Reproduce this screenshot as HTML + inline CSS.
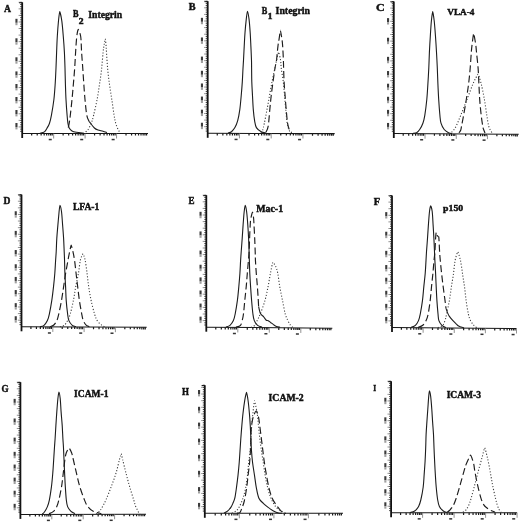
<!DOCTYPE html>
<html><head><meta charset="utf-8"><style>
html,body{margin:0;padding:0;background:#fff;}
svg{display:block;filter:grayscale(1);}
text{font-family:"Liberation Serif",serif;font-weight:bold;fill:#111;stroke:#111;stroke-width:0.45px;}
</style></head><body>
<svg width="520" height="523" viewBox="0 0 520 523">
<rect width="520" height="523" fill="#fff"/>
<g><path d="M22.2 2.3V138" stroke="#111" stroke-width="1.8" fill="none"/><path d="M19 2.7H22.2" stroke="#111" stroke-width="1.1" fill="none"/><path d="M20.2 131.31H22.2M20.2 129.13H22.2M20.2 126.94H22.2M20.2 124.75H22.2M20.2 122.57H22.2M20.2 120.38H22.2M20.2 118.19H22.2M20.2 116.01H22.2M20.2 113.82H22.2M20.2 111.63H22.2M20.2 109.45H22.2M20.2 107.26H22.2M20.2 105.07H22.2M20.2 102.89H22.2M20.2 100.7H22.2M20.2 98.51H22.2M20.2 96.33H22.2M20.2 94.14H22.2M20.2 91.95H22.2M20.2 89.77H22.2M20.2 87.58H22.2M20.2 85.39H22.2M20.2 83.21H22.2M20.2 81.02H22.2M20.2 78.83H22.2M20.2 76.65H22.2M20.2 74.46H22.2M20.2 72.27H22.2M20.2 70.09H22.2M20.2 67.9H22.2M20.2 65.71H22.2M20.2 63.53H22.2M20.2 61.34H22.2M20.2 59.15H22.2M20.2 56.97H22.2M20.2 54.78H22.2M20.2 52.59H22.2M20.2 50.41H22.2M20.2 48.22H22.2M20.2 46.03H22.2M20.2 43.85H22.2M20.2 41.66H22.2M20.2 39.47H22.2M20.2 37.29H22.2M20.2 35.1H22.2M20.2 32.91H22.2M20.2 30.73H22.2M20.2 28.54H22.2M20.2 26.35H22.2M20.2 24.17H22.2M20.2 21.98H22.2M20.2 19.79H22.2M20.2 17.61H22.2M20.2 15.42H22.2M20.2 13.23H22.2M20.2 11.05H22.2M20.2 8.86H22.2M20.2 6.67H22.2M20.2 4.49H22.2M20.2 2.3H22.2" stroke="#222" stroke-width="0.85" fill="none"/><path d="M18.6 126.94H20.2M18.6 120.38H20.2M18.6 113.82H20.2M18.6 107.26H20.2M18.6 100.7H20.2M18.6 94.14H20.2M18.6 87.58H20.2M18.6 81.02H20.2M18.6 74.46H20.2M18.6 67.9H20.2M18.6 61.34H20.2M18.6 54.78H20.2M18.6 48.22H20.2M18.6 41.66H20.2M18.6 35.1H20.2M18.6 28.54H20.2M18.6 21.98H20.2M18.6 15.42H20.2M18.6 8.86H20.2M18.6 2.3H20.2" stroke="#666" stroke-width="0.7" fill="none"/><rect x="15.4" y="18.8" width="2.1" height="4.0" fill="#3c3c3c"/><rect x="15.4" y="22.8" width="2.1" height="2.4" fill="#a0a0a0"/><rect x="15.4" y="38.3" width="2.1" height="4.0" fill="#3c3c3c"/><rect x="15.4" y="42.3" width="2.1" height="2.4" fill="#a0a0a0"/><rect x="15.4" y="57.3" width="2.1" height="4.0" fill="#3c3c3c"/><rect x="15.4" y="61.3" width="2.1" height="2.4" fill="#a0a0a0"/><rect x="15.4" y="71.4" width="2.1" height="4.0" fill="#3c3c3c"/><rect x="15.4" y="75.4" width="2.1" height="2.4" fill="#a0a0a0"/><rect x="15.4" y="84" width="2.1" height="4.0" fill="#3c3c3c"/><rect x="15.4" y="88" width="2.1" height="2.4" fill="#a0a0a0"/><rect x="15.4" y="97" width="2.1" height="4.0" fill="#3c3c3c"/><rect x="15.4" y="101" width="2.1" height="2.4" fill="#a0a0a0"/><rect x="15.4" y="110" width="2.1" height="4.0" fill="#3c3c3c"/><rect x="15.4" y="114" width="2.1" height="2.4" fill="#a0a0a0"/><rect x="15.4" y="123" width="2.1" height="4.0" fill="#3c3c3c"/><rect x="15.4" y="127" width="2.1" height="2.4" fill="#a0a0a0"/><path d="M22.2 133.5L148 133.5" stroke="#161616" stroke-width="1.05" fill="none"/><path d="M31.67 133.5v2.1M37.21 133.5v2.1M41.13 133.5v2.1M44.18 133.5v2.1M46.67 133.5v2.1M48.78 133.5v2.1M50.6 133.5v2.1M52.21 133.5v2.1M63.12 133.5v2.1M68.66 133.5v2.1M72.58 133.5v2.1M75.63 133.5v2.1M78.12 133.5v2.1M80.23 133.5v2.1M82.05 133.5v2.1M83.66 133.5v2.1M94.57 133.5v2.1M100.11 133.5v2.1M104.03 133.5v2.1M107.08 133.5v2.1M109.57 133.5v2.1M111.68 133.5v2.1M113.5 133.5v2.1M115.11 133.5v2.1M126.02 133.5v2.1M131.56 133.5v2.1M135.48 133.5v2.1M138.53 133.5v2.1M141.02 133.5v2.1M143.13 133.5v2.1M144.95 133.5v2.1M146.56 133.5v2.1" stroke="#1a1a1a" stroke-width="1.2" fill="none"/><path d="M53.65 133.5v5" stroke="#777" stroke-width="0.8"/><rect x="48.75" y="138.8" width="3.0" height="1.5" fill="#333"/><path d="M85.1 133.5v5" stroke="#777" stroke-width="0.8"/><rect x="80.2" y="138.8" width="3.0" height="1.5" fill="#333"/><path d="M116.55 133.5v5" stroke="#777" stroke-width="0.8"/><rect x="111.65" y="138.8" width="3.0" height="1.5" fill="#333"/><path d="M40.00 133.30C40.73 133.07 43.22 132.78 44.40 131.90C45.58 131.02 46.25 129.45 47.10 128.00C47.95 126.55 48.78 125.32 49.50 123.20C50.22 121.08 50.67 119.25 51.40 115.30C52.13 111.35 53.27 104.75 53.90 99.50C54.53 94.25 54.85 89.05 55.20 83.80C55.55 78.55 55.77 73.25 56.00 68.00C56.23 62.75 56.38 57.55 56.60 52.30C56.82 47.05 56.98 41.75 57.30 36.50C57.62 31.25 58.10 24.95 58.50 20.80C58.90 16.65 59.51 11.60 59.70 11.60C59.89 11.60 61.20 16.65 61.80 20.80C62.40 24.95 62.87 31.25 63.30 36.50C63.73 41.75 64.12 47.05 64.40 52.30C64.68 57.55 64.83 62.75 65.00 68.00C65.17 73.25 65.23 78.55 65.40 83.80C65.57 89.05 65.72 94.25 66.00 99.50C66.28 104.75 66.78 111.35 67.10 115.30C67.42 119.25 67.55 121.08 67.90 123.20C68.25 125.32 68.52 126.70 69.20 128.00C69.88 129.30 70.82 130.28 72.00 131.00C73.18 131.72 74.30 131.93 76.30 132.30C78.30 132.67 82.72 133.05 84.00 133.20" stroke="#1c1c1c" stroke-width="1.1" fill="none"/><path d="M68.30 127.50C68.45 126.78 68.87 125.23 69.20 123.20C69.53 121.17 69.83 119.25 70.30 115.30C70.77 111.35 71.48 104.75 72.00 99.50C72.52 94.25 72.95 89.05 73.40 83.80C73.85 78.55 74.33 73.25 74.70 68.00C75.07 62.75 75.26 57.55 75.60 52.30C75.94 47.05 76.32 40.32 76.75 36.50C77.18 32.68 77.97 29.40 78.20 29.40C78.43 29.40 80.13 32.68 80.70 36.50C81.27 40.32 81.26 47.05 81.60 52.30C81.94 57.55 82.38 62.75 82.75 68.00C83.12 73.25 83.42 78.55 83.80 83.80C84.17 89.05 84.50 94.25 85.00 99.50C85.50 104.75 86.12 111.63 86.80 115.30C87.48 118.97 88.72 120.47 89.10 121.50" stroke="#1c1c1c" stroke-width="1.15" fill="none" stroke-dasharray="7 3.3"/><path d="M89.10 121.50C89.18 121.60 89.62 122.12 90.50 123.20C91.38 124.28 93.15 126.87 94.40 128.00C95.65 129.13 96.57 129.47 98.00 130.00C99.43 130.53 101.50 130.77 103.00 131.20C104.50 131.63 106.33 132.37 107.00 132.60" stroke="#1c1c1c" stroke-width="1.1" fill="none"/><path d="M85.70 131.80C86.10 131.42 87.17 130.93 88.10 129.50C89.03 128.07 90.38 125.57 91.30 123.20C92.22 120.83 92.63 119.25 93.60 115.30C94.57 111.35 96.10 104.75 97.10 99.50C98.10 94.25 98.83 89.05 99.60 83.80C100.37 78.55 101.12 73.25 101.70 68.00C102.28 62.75 102.67 56.30 103.10 52.30C103.53 48.30 103.93 46.23 104.30 44.00C104.67 41.77 105.20 38.84 105.30 38.90C105.40 38.96 105.80 42.77 106.00 45.00C106.20 47.23 106.23 48.47 106.50 52.30C106.77 56.13 107.12 62.75 107.60 68.00C108.08 73.25 108.70 78.55 109.40 83.80C110.10 89.05 111.02 94.25 111.80 99.50C112.58 104.75 113.45 111.35 114.10 115.30C114.75 119.25 115.03 120.83 115.70 123.20C116.37 125.57 117.38 127.98 118.10 129.50C118.82 131.02 119.68 131.83 120.00 132.30" stroke="#3a3a3a" stroke-width="1.1" fill="none" stroke-dasharray="1.1 1.9"/><text transform="translate(4 11.7) scale(0.910 1)" font-size="10.62">A</text><text transform="translate(72.99 17.1) scale(0.858 1)" font-size="9.69">B</text><text transform="translate(78.82 23.5) scale(1.200 1)" font-size="8.00">2</text><text transform="translate(88.26 17.5) scale(0.942 1)" font-size="10.31">Integrin</text></g>
<g><path d="M207.7 1.2V137.8" stroke="#111" stroke-width="1.8" fill="none"/><path d="M204.5 1.6H207.7" stroke="#111" stroke-width="1.1" fill="none"/><path d="M205.7 131.1H207.7M205.7 128.9H207.7M205.7 126.7H207.7M205.7 124.49H207.7M205.7 122.29H207.7M205.7 120.09H207.7M205.7 117.89H207.7M205.7 115.69H207.7M205.7 113.49H207.7M205.7 111.28H207.7M205.7 109.08H207.7M205.7 106.88H207.7M205.7 104.68H207.7M205.7 102.48H207.7M205.7 100.28H207.7M205.7 98.07H207.7M205.7 95.87H207.7M205.7 93.67H207.7M205.7 91.47H207.7M205.7 89.27H207.7M205.7 87.06H207.7M205.7 84.86H207.7M205.7 82.66H207.7M205.7 80.46H207.7M205.7 78.26H207.7M205.7 76.06H207.7M205.7 73.85H207.7M205.7 71.65H207.7M205.7 69.45H207.7M205.7 67.25H207.7M205.7 65.05H207.7M205.7 62.85H207.7M205.7 60.64H207.7M205.7 58.44H207.7M205.7 56.24H207.7M205.7 54.04H207.7M205.7 51.84H207.7M205.7 49.64H207.7M205.7 47.43H207.7M205.7 45.23H207.7M205.7 43.03H207.7M205.7 40.83H207.7M205.7 38.63H207.7M205.7 36.43H207.7M205.7 34.22H207.7M205.7 32.02H207.7M205.7 29.82H207.7M205.7 27.62H207.7M205.7 25.42H207.7M205.7 23.22H207.7M205.7 21.01H207.7M205.7 18.81H207.7M205.7 16.61H207.7M205.7 14.41H207.7M205.7 12.21H207.7M205.7 10.01H207.7M205.7 7.8H207.7M205.7 5.6H207.7M205.7 3.4H207.7M205.7 1.2H207.7" stroke="#222" stroke-width="0.85" fill="none"/><path d="M204.1 126.7H205.7M204.1 120.09H205.7M204.1 113.49H205.7M204.1 106.88H205.7M204.1 100.28H205.7M204.1 93.67H205.7M204.1 87.06H205.7M204.1 80.46H205.7M204.1 73.85H205.7M204.1 67.25H205.7M204.1 60.64H205.7M204.1 54.04H205.7M204.1 47.43H205.7M204.1 40.83H205.7M204.1 34.22H205.7M204.1 27.62H205.7M204.1 21.01H205.7M204.1 14.41H205.7M204.1 7.8H205.7M204.1 1.2H205.7" stroke="#666" stroke-width="0.7" fill="none"/><rect x="200.9" y="17.83" width="2.1" height="4.0" fill="#3c3c3c"/><rect x="200.9" y="21.83" width="2.1" height="2.4" fill="#a0a0a0"/><rect x="200.9" y="37.47" width="2.1" height="4.0" fill="#3c3c3c"/><rect x="200.9" y="41.47" width="2.1" height="2.4" fill="#a0a0a0"/><rect x="200.9" y="56.6" width="2.1" height="4.0" fill="#3c3c3c"/><rect x="200.9" y="60.6" width="2.1" height="2.4" fill="#a0a0a0"/><rect x="200.9" y="70.79" width="2.1" height="4.0" fill="#3c3c3c"/><rect x="200.9" y="74.79" width="2.1" height="2.4" fill="#a0a0a0"/><rect x="200.9" y="83.48" width="2.1" height="4.0" fill="#3c3c3c"/><rect x="200.9" y="87.48" width="2.1" height="2.4" fill="#a0a0a0"/><rect x="200.9" y="96.57" width="2.1" height="4.0" fill="#3c3c3c"/><rect x="200.9" y="100.57" width="2.1" height="2.4" fill="#a0a0a0"/><rect x="200.9" y="109.66" width="2.1" height="4.0" fill="#3c3c3c"/><rect x="200.9" y="113.66" width="2.1" height="2.4" fill="#a0a0a0"/><rect x="200.9" y="122.75" width="2.1" height="4.0" fill="#3c3c3c"/><rect x="200.9" y="126.75" width="2.1" height="2.4" fill="#a0a0a0"/><path d="M207.7 133.3L334.7 133.6" stroke="#161616" stroke-width="1.05" fill="none"/><path d="M217.26 133.32v2.1M222.85 133.34v2.1M226.82 133.35v2.1M229.89 133.35v2.1M232.41 133.36v2.1M234.53 133.36v2.1M236.37 133.37v2.1M238 133.37v2.1M249.01 133.4v2.1M254.6 133.41v2.1M258.57 133.42v2.1M261.64 133.43v2.1M264.16 133.43v2.1M266.28 133.44v2.1M268.12 133.44v2.1M269.75 133.45v2.1M280.76 133.47v2.1M286.35 133.49v2.1M290.32 133.5v2.1M293.39 133.5v2.1M295.91 133.51v2.1M298.03 133.51v2.1M299.87 133.52v2.1M301.5 133.52v2.1M312.51 133.55v2.1M318.1 133.56v2.1M322.07 133.57v2.1M325.14 133.58v2.1M327.66 133.58v2.1M329.78 133.59v2.1M331.62 133.59v2.1M333.25 133.6v2.1" stroke="#1a1a1a" stroke-width="1.2" fill="none"/><path d="M239.45 133.38v5" stroke="#777" stroke-width="0.8"/><rect x="234.55" y="138.68" width="3.0" height="1.5" fill="#333"/><path d="M271.2 133.45v5" stroke="#777" stroke-width="0.8"/><rect x="266.3" y="138.75" width="3.0" height="1.5" fill="#333"/><path d="M302.95 133.53v5" stroke="#777" stroke-width="0.8"/><rect x="298.05" y="138.83" width="3.0" height="1.5" fill="#333"/><path d="M228.00 133.10C228.58 132.87 230.35 132.62 231.50 131.70C232.65 130.78 233.87 129.45 234.90 127.60C235.93 125.75 236.88 123.60 237.70 120.60C238.52 117.60 239.22 113.75 239.80 109.60C240.38 105.45 240.78 100.32 241.20 95.70C241.62 91.08 242.00 86.43 242.30 81.90C242.60 77.37 242.80 72.08 243.00 68.50C243.20 64.92 243.30 64.05 243.50 60.40C243.70 56.75 243.95 51.22 244.20 46.60C244.45 41.98 244.65 37.32 245.00 32.70C245.35 28.08 245.90 22.48 246.30 18.90C246.70 15.32 247.24 11.20 247.40 11.20C247.56 11.20 248.53 15.32 249.00 18.90C249.47 22.48 249.88 28.08 250.20 32.70C250.52 37.32 250.68 41.98 250.90 46.60C251.12 51.22 251.38 56.83 251.50 60.40C251.62 63.97 251.55 64.42 251.60 68.00C251.65 71.58 251.65 77.28 251.80 81.90C251.95 86.52 252.25 91.08 252.50 95.70C252.75 100.32 252.95 105.45 253.30 109.60C253.65 113.75 254.08 117.60 254.60 120.60C255.12 123.60 255.30 125.75 256.40 127.60C257.50 129.45 259.60 130.78 261.20 131.70C262.80 132.62 265.20 132.87 266.00 133.10" stroke="#1c1c1c" stroke-width="1.1" fill="none"/><path d="M266.00 132.20C266.37 131.20 267.57 129.97 268.20 126.20C268.83 122.43 269.30 114.68 269.80 109.60C270.30 104.52 270.67 100.32 271.20 95.70C271.73 91.08 272.37 86.52 273.00 81.90C273.63 77.28 274.42 71.58 275.00 68.00C275.58 64.42 276.02 63.97 276.50 60.40C276.98 56.83 277.48 50.07 277.90 46.60C278.32 43.13 278.58 42.32 279.00 39.60C279.42 36.88 280.22 30.30 280.40 30.30C280.57 30.30 281.62 36.88 282.00 39.60C282.38 42.32 282.47 43.13 282.70 46.60C282.93 50.07 283.25 56.83 283.40 60.40C283.55 63.97 283.48 64.42 283.60 68.00C283.72 71.58 283.85 77.28 284.10 81.90C284.35 86.52 284.75 91.08 285.10 95.70C285.45 100.32 285.78 104.98 286.20 109.60C286.62 114.22 287.03 119.95 287.60 123.40C288.17 126.85 288.92 128.77 289.60 130.30C290.28 131.83 291.35 132.22 291.70 132.60" stroke="#1c1c1c" stroke-width="1.15" fill="none" stroke-dasharray="7 3.3"/><path d="M261.00 132.80C261.27 132.38 262.05 131.87 262.60 130.30C263.15 128.73 263.57 126.85 264.30 123.40C265.03 119.95 266.13 114.22 267.00 109.60C267.87 104.98 268.67 100.32 269.50 95.70C270.33 91.08 271.12 86.40 272.00 81.90C272.88 77.40 274.05 72.28 274.80 68.70C275.55 65.12 275.87 63.17 276.50 60.40C277.13 57.63 278.36 52.10 278.60 52.10C278.84 52.10 280.15 57.63 280.60 60.40C281.05 63.17 280.85 65.12 281.30 68.70C281.75 72.28 282.75 77.40 283.30 81.90C283.85 86.40 284.18 91.08 284.60 95.70C285.02 100.32 285.37 104.98 285.80 109.60C286.23 114.22 286.63 119.95 287.20 123.40C287.77 126.85 288.52 128.73 289.20 130.30C289.88 131.87 290.95 132.38 291.30 132.80" stroke="#3a3a3a" stroke-width="1.1" fill="none" stroke-dasharray="1.1 1.9"/><text transform="translate(188.64 9.8) scale(0.993 1)" font-size="10.31">B</text><text transform="translate(261.69 13.5) scale(0.858 1)" font-size="9.69">B</text><text transform="translate(267.7 19.3) scale(1.190 1)" font-size="7.85">1</text><text transform="translate(275.55 14.1) scale(0.928 1)" font-size="10.62">Integrin</text></g>
<g><path d="M393.8 1.5V138" stroke="#111" stroke-width="1.8" fill="none"/><path d="M390.6 1.9H393.8" stroke="#111" stroke-width="1.1" fill="none"/><path d="M391.8 131.3H393.8M391.8 129.1H393.8M391.8 126.9H393.8M391.8 124.7H393.8M391.8 122.5H393.8M391.8 120.3H393.8M391.8 118.1H393.8M391.8 115.9H393.8M391.8 113.7H393.8M391.8 111.5H393.8M391.8 109.3H393.8M391.8 107.1H393.8M391.8 104.9H393.8M391.8 102.7H393.8M391.8 100.5H393.8M391.8 98.3H393.8M391.8 96.1H393.8M391.8 93.9H393.8M391.8 91.7H393.8M391.8 89.5H393.8M391.8 87.3H393.8M391.8 85.1H393.8M391.8 82.9H393.8M391.8 80.7H393.8M391.8 78.5H393.8M391.8 76.3H393.8M391.8 74.1H393.8M391.8 71.9H393.8M391.8 69.7H393.8M391.8 67.5H393.8M391.8 65.3H393.8M391.8 63.1H393.8M391.8 60.9H393.8M391.8 58.7H393.8M391.8 56.5H393.8M391.8 54.3H393.8M391.8 52.1H393.8M391.8 49.9H393.8M391.8 47.7H393.8M391.8 45.5H393.8M391.8 43.3H393.8M391.8 41.1H393.8M391.8 38.9H393.8M391.8 36.7H393.8M391.8 34.5H393.8M391.8 32.3H393.8M391.8 30.1H393.8M391.8 27.9H393.8M391.8 25.7H393.8M391.8 23.5H393.8M391.8 21.3H393.8M391.8 19.1H393.8M391.8 16.9H393.8M391.8 14.7H393.8M391.8 12.5H393.8M391.8 10.3H393.8M391.8 8.1H393.8M391.8 5.9H393.8M391.8 3.7H393.8M391.8 1.5H393.8" stroke="#222" stroke-width="0.85" fill="none"/><path d="M390.2 126.9H391.8M390.2 120.3H391.8M390.2 113.7H391.8M390.2 107.1H391.8M390.2 100.5H391.8M390.2 93.9H391.8M390.2 87.3H391.8M390.2 80.7H391.8M390.2 74.1H391.8M390.2 67.5H391.8M390.2 60.9H391.8M390.2 54.3H391.8M390.2 47.7H391.8M390.2 41.1H391.8M390.2 34.5H391.8M390.2 27.9H391.8M390.2 21.3H391.8M390.2 14.7H391.8M390.2 8.1H391.8M390.2 1.5H391.8" stroke="#666" stroke-width="0.7" fill="none"/><rect x="387" y="18.12" width="2.1" height="4.0" fill="#3c3c3c"/><rect x="387" y="22.12" width="2.1" height="2.4" fill="#a0a0a0"/><rect x="387" y="37.74" width="2.1" height="4.0" fill="#3c3c3c"/><rect x="387" y="41.74" width="2.1" height="2.4" fill="#a0a0a0"/><rect x="387" y="56.85" width="2.1" height="4.0" fill="#3c3c3c"/><rect x="387" y="60.85" width="2.1" height="2.4" fill="#a0a0a0"/><rect x="387" y="71.04" width="2.1" height="4.0" fill="#3c3c3c"/><rect x="387" y="75.04" width="2.1" height="2.4" fill="#a0a0a0"/><rect x="387" y="83.72" width="2.1" height="4.0" fill="#3c3c3c"/><rect x="387" y="87.72" width="2.1" height="2.4" fill="#a0a0a0"/><rect x="387" y="96.8" width="2.1" height="4.0" fill="#3c3c3c"/><rect x="387" y="100.8" width="2.1" height="2.4" fill="#a0a0a0"/><rect x="387" y="109.88" width="2.1" height="4.0" fill="#3c3c3c"/><rect x="387" y="113.88" width="2.1" height="2.4" fill="#a0a0a0"/><rect x="387" y="122.95" width="2.1" height="4.0" fill="#3c3c3c"/><rect x="387" y="126.95" width="2.1" height="2.4" fill="#a0a0a0"/><path d="M393.8 133.5L518.7 134.3" stroke="#161616" stroke-width="1.05" fill="none"/><path d="M403.2 133.56v2.1M408.7 133.6v2.1M412.6 133.62v2.1M415.63 133.64v2.1M418.1 133.66v2.1M420.19 133.67v2.1M422 133.68v2.1M423.6 133.69v2.1M434.42 133.76v2.1M439.92 133.8v2.1M443.82 133.82v2.1M446.85 133.84v2.1M449.32 133.86v2.1M451.41 133.87v2.1M453.22 133.88v2.1M454.82 133.89v2.1M465.65 133.96v2.1M471.15 134v2.1M475.05 134.02v2.1M478.08 134.04v2.1M480.55 134.06v2.1M482.64 134.07v2.1M484.45 134.08v2.1M486.05 134.09v2.1M496.87 134.16v2.1M502.37 134.2v2.1M506.27 134.22v2.1M509.3 134.24v2.1M511.77 134.26v2.1M513.86 134.27v2.1M515.67 134.28v2.1M517.27 134.29v2.1" stroke="#1a1a1a" stroke-width="1.2" fill="none"/><path d="M425.03 133.7v5" stroke="#777" stroke-width="0.8"/><rect x="420.13" y="139" width="3.0" height="1.5" fill="#333"/><path d="M456.25 133.9v5" stroke="#777" stroke-width="0.8"/><rect x="451.35" y="139.2" width="3.0" height="1.5" fill="#333"/><path d="M487.48 134.1v5" stroke="#777" stroke-width="0.8"/><rect x="482.58" y="139.4" width="3.0" height="1.5" fill="#333"/><path d="M413.00 133.40C413.60 133.28 415.48 133.35 416.60 132.70C417.72 132.05 418.65 131.08 419.70 129.50C420.75 127.92 422.05 125.57 422.90 123.20C423.75 120.83 424.15 119.25 424.80 115.30C425.45 111.35 426.28 104.75 426.80 99.50C427.32 94.25 427.57 89.05 427.90 83.80C428.23 78.55 428.55 73.25 428.80 68.00C429.05 62.75 429.15 57.55 429.40 52.30C429.65 47.05 429.97 41.75 430.30 36.50C430.63 31.25 431.00 24.95 431.40 20.80C431.80 16.65 432.54 11.60 432.70 11.60C432.86 11.60 433.73 16.65 434.20 20.80C434.67 24.95 435.12 31.25 435.50 36.50C435.88 41.75 436.20 47.05 436.50 52.30C436.80 57.55 437.07 62.75 437.30 68.00C437.53 73.25 437.67 78.55 437.90 83.80C438.13 89.05 438.37 94.25 438.70 99.50C439.03 104.75 439.52 111.35 439.90 115.30C440.28 119.25 440.28 120.83 441.00 123.20C441.72 125.57 442.88 127.88 444.20 129.50C445.52 131.12 447.60 132.22 448.90 132.90C450.20 133.58 451.48 133.48 452.00 133.60" stroke="#1c1c1c" stroke-width="1.1" fill="none"/><path d="M459.00 132.80C459.28 132.38 460.28 131.37 460.70 130.30C461.12 129.23 461.02 128.90 461.50 126.40C461.98 123.90 462.80 119.78 463.60 115.30C464.40 110.82 465.47 104.75 466.30 99.50C467.13 94.25 467.95 89.05 468.60 83.80C469.25 78.55 469.75 73.25 470.20 68.00C470.65 62.75 470.98 56.23 471.30 52.30C471.62 48.37 471.70 47.55 472.10 44.40C472.50 41.25 473.49 33.40 473.70 33.40C473.91 33.40 475.23 41.25 475.70 44.40C476.17 47.55 476.10 48.37 476.50 52.30C476.90 56.23 477.70 62.75 478.10 68.00C478.50 73.25 478.63 78.55 478.90 83.80C479.17 89.05 479.32 94.25 479.70 99.50C480.08 104.75 480.68 110.82 481.20 115.30C481.72 119.78 482.40 124.03 482.80 126.40C483.20 128.77 483.23 128.40 483.60 129.50C483.97 130.60 484.77 132.42 485.00 133.00" stroke="#1c1c1c" stroke-width="1.15" fill="none" stroke-dasharray="7 3.3"/><path d="M449.00 133.70C449.50 133.40 450.83 133.12 452.00 131.90C453.17 130.68 454.55 129.17 456.00 126.40C457.45 123.63 458.87 119.78 460.70 115.30C462.53 110.82 464.95 104.75 467.00 99.50C469.05 94.25 471.15 88.00 473.00 83.80C474.85 79.60 477.62 74.30 478.10 74.30C478.58 74.30 480.15 79.60 481.20 83.80C482.25 88.00 483.47 94.25 484.40 99.50C485.33 104.75 486.07 110.82 486.80 115.30C487.53 119.78 488.02 123.63 488.80 126.40C489.58 129.17 490.80 130.67 491.50 131.90C492.20 133.13 492.75 133.48 493.00 133.80" stroke="#3a3a3a" stroke-width="1.1" fill="none" stroke-dasharray="1.1 1.9"/><text transform="translate(375.9 10.8) scale(1.114 1)" font-size="10.77">C</text><text transform="translate(447.3 15.1) scale(0.996 1)" font-size="9.23">VLA-4</text></g>
<g><path d="M21.5 194.6V331.3" stroke="#111" stroke-width="1.8" fill="none"/><path d="M18.3 195H21.5" stroke="#111" stroke-width="1.1" fill="none"/><path d="M19.5 324.6H21.5M19.5 322.39H21.5M19.5 320.19H21.5M19.5 317.99H21.5M19.5 315.78H21.5M19.5 313.58H21.5M19.5 311.38H21.5M19.5 309.17H21.5M19.5 306.97H21.5M19.5 304.77H21.5M19.5 302.56H21.5M19.5 300.36H21.5M19.5 298.16H21.5M19.5 295.95H21.5M19.5 293.75H21.5M19.5 291.55H21.5M19.5 289.34H21.5M19.5 287.14H21.5M19.5 284.94H21.5M19.5 282.73H21.5M19.5 280.53H21.5M19.5 278.33H21.5M19.5 276.12H21.5M19.5 273.92H21.5M19.5 271.72H21.5M19.5 269.51H21.5M19.5 267.31H21.5M19.5 265.11H21.5M19.5 262.9H21.5M19.5 260.7H21.5M19.5 258.5H21.5M19.5 256.29H21.5M19.5 254.09H21.5M19.5 251.89H21.5M19.5 249.68H21.5M19.5 247.48H21.5M19.5 245.28H21.5M19.5 243.07H21.5M19.5 240.87H21.5M19.5 238.67H21.5M19.5 236.46H21.5M19.5 234.26H21.5M19.5 232.06H21.5M19.5 229.85H21.5M19.5 227.65H21.5M19.5 225.45H21.5M19.5 223.24H21.5M19.5 221.04H21.5M19.5 218.84H21.5M19.5 216.63H21.5M19.5 214.43H21.5M19.5 212.23H21.5M19.5 210.02H21.5M19.5 207.82H21.5M19.5 205.62H21.5M19.5 203.41H21.5M19.5 201.21H21.5M19.5 199.01H21.5M19.5 196.8H21.5M19.5 194.6H21.5" stroke="#222" stroke-width="0.85" fill="none"/><path d="M17.9 320.19H19.5M17.9 313.58H19.5M17.9 306.97H19.5M17.9 300.36H19.5M17.9 293.75H19.5M17.9 287.14H19.5M17.9 280.53H19.5M17.9 273.92H19.5M17.9 267.31H19.5M17.9 260.7H19.5M17.9 254.09H19.5M17.9 247.48H19.5M17.9 240.87H19.5M17.9 234.26H19.5M17.9 227.65H19.5M17.9 221.04H19.5M17.9 214.43H19.5M17.9 207.82H19.5M17.9 201.21H19.5M17.9 194.6H19.5" stroke="#666" stroke-width="0.7" fill="none"/><rect x="14.7" y="211.25" width="2.1" height="4.0" fill="#3c3c3c"/><rect x="14.7" y="215.25" width="2.1" height="2.4" fill="#a0a0a0"/><rect x="14.7" y="230.9" width="2.1" height="4.0" fill="#3c3c3c"/><rect x="14.7" y="234.9" width="2.1" height="2.4" fill="#a0a0a0"/><rect x="14.7" y="250.04" width="2.1" height="4.0" fill="#3c3c3c"/><rect x="14.7" y="254.04" width="2.1" height="2.4" fill="#a0a0a0"/><rect x="14.7" y="264.25" width="2.1" height="4.0" fill="#3c3c3c"/><rect x="14.7" y="268.25" width="2.1" height="2.4" fill="#a0a0a0"/><rect x="14.7" y="276.95" width="2.1" height="4.0" fill="#3c3c3c"/><rect x="14.7" y="280.95" width="2.1" height="2.4" fill="#a0a0a0"/><rect x="14.7" y="290.04" width="2.1" height="4.0" fill="#3c3c3c"/><rect x="14.7" y="294.04" width="2.1" height="2.4" fill="#a0a0a0"/><rect x="14.7" y="303.14" width="2.1" height="4.0" fill="#3c3c3c"/><rect x="14.7" y="307.14" width="2.1" height="2.4" fill="#a0a0a0"/><rect x="14.7" y="316.24" width="2.1" height="4.0" fill="#3c3c3c"/><rect x="14.7" y="320.24" width="2.1" height="2.4" fill="#a0a0a0"/><path d="M21.5 326.8L146.7 327.3" stroke="#161616" stroke-width="1.05" fill="none"/><path d="M30.92 326.84v2.1M36.43 326.86v2.1M40.34 326.88v2.1M43.38 326.89v2.1M45.86 326.9v2.1M47.95 326.91v2.1M49.77 326.91v2.1M51.37 326.92v2.1M62.22 326.96v2.1M67.73 326.98v2.1M71.64 327v2.1M74.68 327.01v2.1M77.16 327.02v2.1M79.25 327.03v2.1M81.07 327.04v2.1M82.67 327.04v2.1M93.52 327.09v2.1M99.03 327.11v2.1M102.94 327.13v2.1M105.98 327.14v2.1M108.46 327.15v2.1M110.55 327.16v2.1M112.37 327.16v2.1M113.97 327.17v2.1M124.82 327.21v2.1M130.33 327.23v2.1M134.24 327.25v2.1M137.28 327.26v2.1M139.76 327.27v2.1M141.85 327.28v2.1M143.67 327.29v2.1M145.27 327.29v2.1" stroke="#1a1a1a" stroke-width="1.2" fill="none"/><path d="M52.8 326.93v5" stroke="#777" stroke-width="0.8"/><rect x="47.9" y="332.23" width="3.0" height="1.5" fill="#333"/><path d="M84.1 327.05v5" stroke="#777" stroke-width="0.8"/><rect x="79.2" y="332.35" width="3.0" height="1.5" fill="#333"/><path d="M115.4 327.18v5" stroke="#777" stroke-width="0.8"/><rect x="110.5" y="332.48" width="3.0" height="1.5" fill="#333"/><path d="M40.00 326.80C40.67 326.55 42.77 326.33 44.00 325.30C45.23 324.27 46.50 322.52 47.40 320.60C48.30 318.68 48.67 317.17 49.40 313.80C50.13 310.43 51.12 304.88 51.80 300.40C52.48 295.92 53.00 291.38 53.50 286.90C54.00 282.42 54.45 277.90 54.80 273.50C55.15 269.10 55.37 264.12 55.60 260.50C55.83 256.88 56.00 255.48 56.20 251.80C56.40 248.12 56.52 242.88 56.80 238.40C57.08 233.92 57.52 229.38 57.90 224.90C58.28 220.42 58.77 214.75 59.10 211.50C59.43 208.25 59.76 205.40 59.90 205.40C60.04 205.40 61.05 208.25 61.50 211.50C61.95 214.75 62.25 220.42 62.60 224.90C62.95 229.38 63.33 233.92 63.60 238.40C63.87 242.88 64.04 248.12 64.20 251.80C64.36 255.48 64.43 256.88 64.55 260.50C64.67 264.12 64.73 269.10 64.90 273.50C65.08 277.90 65.38 282.42 65.60 286.90C65.82 291.38 65.87 295.92 66.20 300.40C66.53 304.88 67.15 310.43 67.60 313.80C68.05 317.17 68.12 318.68 68.90 320.60C69.68 322.52 71.12 324.28 72.30 325.30C73.48 326.32 75.38 326.47 76.00 326.70" stroke="#1c1c1c" stroke-width="1.1" fill="none"/><path d="M50.00 326.70C50.58 326.47 52.37 326.32 53.50 325.30C54.63 324.28 55.92 322.52 56.80 320.60C57.68 318.68 58.02 317.17 58.80 313.80C59.58 310.43 60.70 304.88 61.50 300.40C62.30 295.92 62.92 291.38 63.60 286.90C64.28 282.42 64.88 277.87 65.60 273.50C66.32 269.13 67.23 264.32 67.90 260.70C68.57 257.08 69.05 254.40 69.60 251.80C70.15 249.20 71.00 245.10 71.20 245.10C71.40 245.10 72.43 249.20 73.00 251.80C73.57 254.40 74.08 257.08 74.60 260.70C75.12 264.32 75.58 269.13 76.10 273.50C76.62 277.87 77.15 282.42 77.70 286.90C78.25 291.38 78.73 295.92 79.40 300.40C80.07 304.88 81.05 310.43 81.70 313.80C82.35 317.17 82.52 318.68 83.30 320.60C84.08 322.52 85.28 324.27 86.40 325.30C87.52 326.33 89.40 326.55 90.00 326.80" stroke="#1c1c1c" stroke-width="1.15" fill="none" stroke-dasharray="7 3.3"/><path d="M60.00 326.80C60.70 326.55 62.93 326.33 64.20 325.30C65.47 324.27 66.58 322.52 67.60 320.60C68.62 318.68 69.33 317.17 70.30 313.80C71.27 310.43 72.50 304.88 73.40 300.40C74.30 295.92 74.87 291.38 75.70 286.90C76.53 282.42 77.62 277.98 78.40 273.50C79.18 269.02 79.62 263.27 80.40 260.00C81.18 256.73 82.83 253.90 83.10 253.90C83.37 253.90 84.43 256.73 85.10 260.00C85.77 263.27 86.50 269.02 87.10 273.50C87.70 277.98 88.03 282.42 88.70 286.90C89.37 291.38 90.13 295.92 91.10 300.40C92.07 304.88 93.48 310.43 94.50 313.80C95.52 317.17 95.97 318.68 97.20 320.60C98.43 322.52 100.43 324.23 101.90 325.30C103.37 326.37 105.32 326.72 106.00 327.00" stroke="#3a3a3a" stroke-width="1.1" fill="none" stroke-dasharray="1.1 1.9"/><text transform="translate(3.56 203.8) scale(1.016 1)" font-size="9.38">D</text><text transform="translate(72.96 210.3) scale(1.020 1)" font-size="9.38">LFA-1</text></g>
<g><path d="M206.3 195.2V331.7" stroke="#111" stroke-width="1.8" fill="none"/><path d="M203.1 195.6H206.3" stroke="#111" stroke-width="1.1" fill="none"/><path d="M204.3 325H206.3M204.3 322.8H206.3M204.3 320.6H206.3M204.3 318.4H206.3M204.3 316.2H206.3M204.3 314H206.3M204.3 311.8H206.3M204.3 309.6H206.3M204.3 307.4H206.3M204.3 305.2H206.3M204.3 303H206.3M204.3 300.8H206.3M204.3 298.6H206.3M204.3 296.4H206.3M204.3 294.2H206.3M204.3 292H206.3M204.3 289.8H206.3M204.3 287.6H206.3M204.3 285.4H206.3M204.3 283.2H206.3M204.3 281H206.3M204.3 278.8H206.3M204.3 276.6H206.3M204.3 274.4H206.3M204.3 272.2H206.3M204.3 270H206.3M204.3 267.8H206.3M204.3 265.6H206.3M204.3 263.4H206.3M204.3 261.2H206.3M204.3 259H206.3M204.3 256.8H206.3M204.3 254.6H206.3M204.3 252.4H206.3M204.3 250.2H206.3M204.3 248H206.3M204.3 245.8H206.3M204.3 243.6H206.3M204.3 241.4H206.3M204.3 239.2H206.3M204.3 237H206.3M204.3 234.8H206.3M204.3 232.6H206.3M204.3 230.4H206.3M204.3 228.2H206.3M204.3 226H206.3M204.3 223.8H206.3M204.3 221.6H206.3M204.3 219.4H206.3M204.3 217.2H206.3M204.3 215H206.3M204.3 212.8H206.3M204.3 210.6H206.3M204.3 208.4H206.3M204.3 206.2H206.3M204.3 204H206.3M204.3 201.8H206.3M204.3 199.6H206.3M204.3 197.4H206.3M204.3 195.2H206.3" stroke="#222" stroke-width="0.85" fill="none"/><path d="M202.7 320.6H204.3M202.7 314H204.3M202.7 307.4H204.3M202.7 300.8H204.3M202.7 294.2H204.3M202.7 287.6H204.3M202.7 281H204.3M202.7 274.4H204.3M202.7 267.8H204.3M202.7 261.2H204.3M202.7 254.6H204.3M202.7 248H204.3M202.7 241.4H204.3M202.7 234.8H204.3M202.7 228.2H204.3M202.7 221.6H204.3M202.7 215H204.3M202.7 208.4H204.3M202.7 201.8H204.3M202.7 195.2H204.3" stroke="#666" stroke-width="0.7" fill="none"/><rect x="199.5" y="211.82" width="2.1" height="4.0" fill="#3c3c3c"/><rect x="199.5" y="215.82" width="2.1" height="2.4" fill="#a0a0a0"/><rect x="199.5" y="231.44" width="2.1" height="4.0" fill="#3c3c3c"/><rect x="199.5" y="235.44" width="2.1" height="2.4" fill="#a0a0a0"/><rect x="199.5" y="250.55" width="2.1" height="4.0" fill="#3c3c3c"/><rect x="199.5" y="254.55" width="2.1" height="2.4" fill="#a0a0a0"/><rect x="199.5" y="264.74" width="2.1" height="4.0" fill="#3c3c3c"/><rect x="199.5" y="268.74" width="2.1" height="2.4" fill="#a0a0a0"/><rect x="199.5" y="277.42" width="2.1" height="4.0" fill="#3c3c3c"/><rect x="199.5" y="281.42" width="2.1" height="2.4" fill="#a0a0a0"/><rect x="199.5" y="290.5" width="2.1" height="4.0" fill="#3c3c3c"/><rect x="199.5" y="294.5" width="2.1" height="2.4" fill="#a0a0a0"/><rect x="199.5" y="303.57" width="2.1" height="4.0" fill="#3c3c3c"/><rect x="199.5" y="307.57" width="2.1" height="2.4" fill="#a0a0a0"/><rect x="199.5" y="316.65" width="2.1" height="4.0" fill="#3c3c3c"/><rect x="199.5" y="320.65" width="2.1" height="2.4" fill="#a0a0a0"/><path d="M206.3 327.2L332.3 328.2" stroke="#161616" stroke-width="1.05" fill="none"/><path d="M215.78 327.28v2.1M221.33 327.32v2.1M225.26 327.35v2.1M228.32 327.37v2.1M230.81 327.39v2.1M232.92 327.41v2.1M234.75 327.43v2.1M236.36 327.44v2.1M247.28 327.53v2.1M252.83 327.57v2.1M256.76 327.6v2.1M259.82 327.62v2.1M262.31 327.64v2.1M264.42 327.66v2.1M266.25 327.68v2.1M267.86 327.69v2.1M278.78 327.78v2.1M284.33 327.82v2.1M288.26 327.85v2.1M291.32 327.87v2.1M293.81 327.89v2.1M295.92 327.91v2.1M297.75 327.93v2.1M299.36 327.94v2.1M310.28 328.03v2.1M315.83 328.07v2.1M319.76 328.1v2.1M322.82 328.12v2.1M325.31 328.14v2.1M327.42 328.16v2.1M329.25 328.18v2.1M330.86 328.19v2.1" stroke="#1a1a1a" stroke-width="1.2" fill="none"/><path d="M237.8 327.45v5" stroke="#777" stroke-width="0.8"/><rect x="232.9" y="332.75" width="3.0" height="1.5" fill="#333"/><path d="M269.3 327.7v5" stroke="#777" stroke-width="0.8"/><rect x="264.4" y="333" width="3.0" height="1.5" fill="#333"/><path d="M300.8 327.95v5" stroke="#777" stroke-width="0.8"/><rect x="295.9" y="333.25" width="3.0" height="1.5" fill="#333"/><path d="M226.00 327.00C226.67 326.72 228.77 326.37 230.00 325.30C231.23 324.23 232.53 322.52 233.40 320.60C234.27 318.68 234.53 317.17 235.20 313.80C235.87 310.43 236.80 304.88 237.40 300.40C238.00 295.92 238.38 291.38 238.80 286.90C239.22 282.42 239.60 277.88 239.90 273.50C240.20 269.12 240.38 264.22 240.60 260.60C240.82 256.98 240.93 255.50 241.20 251.80C241.47 248.10 241.88 242.88 242.20 238.40C242.52 233.92 242.77 229.38 243.10 224.90C243.43 220.42 243.85 214.75 244.20 211.50C244.55 208.25 245.06 205.40 245.20 205.40C245.34 205.40 246.17 208.25 246.60 211.50C247.03 214.75 247.47 220.42 247.80 224.90C248.13 229.38 248.38 233.92 248.60 238.40C248.82 242.88 248.97 248.10 249.10 251.80C249.22 255.50 249.23 256.98 249.35 260.60C249.47 264.22 249.59 269.12 249.80 273.50C250.01 277.88 250.30 282.42 250.60 286.90C250.90 291.38 251.22 295.92 251.60 300.40C251.98 304.88 252.45 310.43 252.90 313.80C253.35 317.17 253.52 318.68 254.30 320.60C255.08 322.52 256.32 324.20 257.60 325.30C258.88 326.40 261.27 326.88 262.00 327.20" stroke="#1c1c1c" stroke-width="1.1" fill="none"/><path d="M236.00 327.20C236.75 326.88 239.47 326.40 240.50 325.30C241.53 324.20 241.70 322.52 242.20 320.60C242.70 318.68 243.07 317.17 243.50 313.80C243.93 310.43 244.35 304.88 244.80 300.40C245.25 295.92 245.78 291.38 246.20 286.90C246.62 282.42 246.93 277.88 247.30 273.50C247.67 269.12 248.10 264.22 248.40 260.60C248.70 256.98 248.90 255.50 249.10 251.80C249.30 248.10 249.42 242.88 249.60 238.40C249.78 233.92 249.98 228.27 250.20 224.90C250.42 221.53 250.52 220.33 250.90 218.20C251.28 216.07 252.34 212.10 252.50 212.10C252.66 212.10 253.35 216.07 253.60 218.20C253.85 220.33 253.82 221.53 254.00 224.90C254.18 228.27 254.50 233.92 254.70 238.40C254.90 242.88 255.07 248.10 255.20 251.80C255.32 255.50 255.27 256.98 255.45 260.60C255.63 264.22 255.98 269.12 256.30 273.50C256.62 277.88 257.07 282.42 257.40 286.90C257.73 291.38 258.10 297.15 258.30 300.40C258.50 303.65 258.55 305.40 258.60 306.40" stroke="#1c1c1c" stroke-width="1.15" fill="none" stroke-dasharray="7 3.3"/><path d="M258.60 306.40C258.71 306.82 259.65 311.87 260.50 313.60C261.35 315.33 262.78 315.73 263.70 316.80C264.62 317.87 265.23 319.35 266.00 320.00C266.77 320.65 267.48 320.25 268.30 320.70C269.12 321.15 270.03 322.05 270.90 322.70C271.77 323.35 272.57 323.98 273.50 324.60C274.43 325.22 275.42 325.95 276.50 326.40C277.58 326.85 279.42 327.15 280.00 327.30" stroke="#1c1c1c" stroke-width="1.1" fill="none"/><path d="M251.00 327.40C251.65 327.05 253.87 326.43 254.90 325.30C255.93 324.17 256.30 322.52 257.20 320.60C258.10 318.68 259.00 317.17 260.30 313.80C261.60 310.43 263.72 304.88 265.00 300.40C266.28 295.92 267.10 291.38 268.00 286.90C268.90 282.42 269.60 277.58 270.40 273.50C271.20 269.42 272.50 262.84 272.80 262.40C273.10 261.96 274.67 264.15 275.50 266.00C276.33 267.85 277.08 270.02 277.80 273.50C278.52 276.98 279.02 282.42 279.80 286.90C280.58 291.38 281.60 295.92 282.50 300.40C283.40 304.88 284.30 310.43 285.20 313.80C286.10 317.17 287.00 318.68 287.90 320.60C288.80 322.52 289.75 324.13 290.60 325.30C291.45 326.47 292.60 327.22 293.00 327.60" stroke="#3a3a3a" stroke-width="1.1" fill="none" stroke-dasharray="1.1 1.9"/><text transform="translate(188.47 204.4) scale(0.929 1)" font-size="9.69">E</text><text transform="translate(256.25 212) scale(1.020 1)" font-size="9.69">Mac-1</text></g>
<g><path d="M392 195.5V332" stroke="#111" stroke-width="1.8" fill="none"/><path d="M388.8 195.9H392" stroke="#111" stroke-width="1.1" fill="none"/><path d="M390 325.3H392M390 323.1H392M390 320.9H392M390 318.7H392M390 316.5H392M390 314.3H392M390 312.1H392M390 309.9H392M390 307.7H392M390 305.5H392M390 303.3H392M390 301.1H392M390 298.9H392M390 296.7H392M390 294.5H392M390 292.3H392M390 290.1H392M390 287.9H392M390 285.7H392M390 283.5H392M390 281.3H392M390 279.1H392M390 276.9H392M390 274.7H392M390 272.5H392M390 270.3H392M390 268.1H392M390 265.9H392M390 263.7H392M390 261.5H392M390 259.3H392M390 257.1H392M390 254.9H392M390 252.7H392M390 250.5H392M390 248.3H392M390 246.1H392M390 243.9H392M390 241.7H392M390 239.5H392M390 237.3H392M390 235.1H392M390 232.9H392M390 230.7H392M390 228.5H392M390 226.3H392M390 224.1H392M390 221.9H392M390 219.7H392M390 217.5H392M390 215.3H392M390 213.1H392M390 210.9H392M390 208.7H392M390 206.5H392M390 204.3H392M390 202.1H392M390 199.9H392M390 197.7H392M390 195.5H392" stroke="#222" stroke-width="0.85" fill="none"/><path d="M388.4 320.9H390M388.4 314.3H390M388.4 307.7H390M388.4 301.1H390M388.4 294.5H390M388.4 287.9H390M388.4 281.3H390M388.4 274.7H390M388.4 268.1H390M388.4 261.5H390M388.4 254.9H390M388.4 248.3H390M388.4 241.7H390M388.4 235.1H390M388.4 228.5H390M388.4 221.9H390M388.4 215.3H390M388.4 208.7H390M388.4 202.1H390M388.4 195.5H390" stroke="#666" stroke-width="0.7" fill="none"/><rect x="385.2" y="212.12" width="2.1" height="4.0" fill="#3c3c3c"/><rect x="385.2" y="216.12" width="2.1" height="2.4" fill="#a0a0a0"/><rect x="385.2" y="231.74" width="2.1" height="4.0" fill="#3c3c3c"/><rect x="385.2" y="235.74" width="2.1" height="2.4" fill="#a0a0a0"/><rect x="385.2" y="250.85" width="2.1" height="4.0" fill="#3c3c3c"/><rect x="385.2" y="254.85" width="2.1" height="2.4" fill="#a0a0a0"/><rect x="385.2" y="265.04" width="2.1" height="4.0" fill="#3c3c3c"/><rect x="385.2" y="269.04" width="2.1" height="2.4" fill="#a0a0a0"/><rect x="385.2" y="277.72" width="2.1" height="4.0" fill="#3c3c3c"/><rect x="385.2" y="281.72" width="2.1" height="2.4" fill="#a0a0a0"/><rect x="385.2" y="290.8" width="2.1" height="4.0" fill="#3c3c3c"/><rect x="385.2" y="294.8" width="2.1" height="2.4" fill="#a0a0a0"/><rect x="385.2" y="303.88" width="2.1" height="4.0" fill="#3c3c3c"/><rect x="385.2" y="307.88" width="2.1" height="2.4" fill="#a0a0a0"/><rect x="385.2" y="316.95" width="2.1" height="4.0" fill="#3c3c3c"/><rect x="385.2" y="320.95" width="2.1" height="2.4" fill="#a0a0a0"/><path d="M392 327.5L516.5 328.5" stroke="#161616" stroke-width="1.05" fill="none"/><path d="M401.37 327.58v2.1M406.85 327.62v2.1M410.74 327.65v2.1M413.76 327.67v2.1M416.22 327.69v2.1M418.3 327.71v2.1M420.11 327.73v2.1M421.7 327.74v2.1M432.49 327.83v2.1M437.98 327.87v2.1M441.86 327.9v2.1M444.88 327.92v2.1M447.34 327.94v2.1M449.43 327.96v2.1M451.23 327.98v2.1M452.83 327.99v2.1M463.62 328.08v2.1M469.1 328.12v2.1M472.99 328.15v2.1M476.01 328.17v2.1M478.47 328.19v2.1M480.55 328.21v2.1M482.36 328.23v2.1M483.95 328.24v2.1M494.74 328.33v2.1M500.23 328.37v2.1M504.11 328.4v2.1M507.13 328.42v2.1M509.59 328.44v2.1M511.68 328.46v2.1M513.48 328.48v2.1M515.08 328.49v2.1" stroke="#1a1a1a" stroke-width="1.2" fill="none"/><path d="M423.12 327.75v5" stroke="#777" stroke-width="0.8"/><rect x="418.23" y="333.05" width="3.0" height="1.5" fill="#333"/><path d="M454.25 328v5" stroke="#777" stroke-width="0.8"/><rect x="449.35" y="333.3" width="3.0" height="1.5" fill="#333"/><path d="M485.38 328.25v5" stroke="#777" stroke-width="0.8"/><rect x="480.48" y="333.55" width="3.0" height="1.5" fill="#333"/><path d="M516.5 328.5v5" stroke="#777" stroke-width="0.8"/><rect x="511.6" y="333.8" width="3.0" height="1.5" fill="#333"/><path d="M411.00 327.40C411.73 327.05 414.15 326.43 415.40 325.30C416.65 324.17 417.68 322.52 418.50 320.60C419.32 318.68 419.63 317.17 420.30 313.80C420.97 310.43 421.92 304.88 422.50 300.40C423.08 295.92 423.35 291.38 423.80 286.90C424.25 282.42 424.83 277.88 425.20 273.50C425.57 269.12 425.78 264.22 426.00 260.60C426.22 256.98 426.25 255.50 426.50 251.80C426.75 248.10 427.18 242.88 427.50 238.40C427.82 233.92 428.07 229.38 428.40 224.90C428.73 220.42 429.13 214.68 429.50 211.50C429.87 208.32 430.44 205.80 430.60 205.80C430.76 205.80 431.78 208.32 432.20 211.50C432.62 214.68 432.82 220.42 433.10 224.90C433.38 229.38 433.67 233.92 433.90 238.40C434.13 242.88 434.33 248.10 434.50 251.80C434.67 255.50 434.72 256.98 434.90 260.60C435.08 264.22 435.38 269.12 435.60 273.50C435.82 277.88 435.98 282.42 436.20 286.90C436.42 291.38 436.60 295.92 436.90 300.40C437.20 304.88 437.67 310.43 438.00 313.80C438.33 317.17 438.25 318.68 438.90 320.60C439.55 322.52 440.72 324.13 441.90 325.30C443.08 326.47 445.32 327.22 446.00 327.60" stroke="#1c1c1c" stroke-width="1.1" fill="none"/><path d="M418.00 327.50C418.80 327.13 421.45 326.45 422.80 325.30C424.15 324.15 425.20 322.52 426.10 320.60C427.00 318.68 427.52 317.17 428.20 313.80C428.88 310.43 429.65 304.88 430.20 300.40C430.75 295.92 431.05 291.38 431.50 286.90C431.95 282.42 432.48 277.88 432.90 273.50C433.32 269.12 433.67 264.22 434.00 260.60C434.33 256.98 434.63 255.50 434.90 251.80C435.17 248.10 435.38 241.65 435.60 238.40C435.82 235.15 436.10 232.47 436.20 232.30C436.30 232.13 436.93 234.75 437.30 235.50C437.67 236.25 438.13 236.32 438.40 236.80C438.67 237.28 438.70 235.90 438.90 238.40C439.10 240.90 439.37 248.10 439.60 251.80C439.83 255.50 439.97 256.98 440.30 260.60C440.63 264.22 441.12 269.12 441.60 273.50C442.08 277.88 442.63 282.42 443.20 286.90C443.77 291.38 444.53 296.82 445.00 300.40C445.47 303.98 445.83 307.07 446.00 308.40" stroke="#1c1c1c" stroke-width="1.15" fill="none" stroke-dasharray="7 3.3"/><path d="M446.00 308.40C446.10 308.67 447.13 311.77 447.70 313.10C448.27 314.43 448.57 315.18 449.40 316.40C450.23 317.62 451.58 319.17 452.70 320.40C453.82 321.63 455.20 322.90 456.10 323.80C457.00 324.70 457.28 325.27 458.10 325.80C458.92 326.33 460.02 326.67 461.00 327.00C461.98 327.33 463.50 327.67 464.00 327.80" stroke="#1c1c1c" stroke-width="1.1" fill="none"/><path d="M438.00 327.70C438.78 327.30 441.53 326.48 442.70 325.30C443.87 324.12 444.33 322.52 445.00 320.60C445.67 318.68 445.97 317.17 446.70 313.80C447.43 310.43 448.62 304.88 449.40 300.40C450.18 295.92 450.72 291.38 451.40 286.90C452.08 282.42 452.88 277.88 453.50 273.50C454.12 269.12 454.38 264.22 455.10 260.60C455.82 256.98 457.49 251.80 457.80 251.80C458.12 251.80 459.72 256.98 460.50 260.60C461.28 264.22 461.83 269.12 462.50 273.50C463.17 277.88 463.90 282.42 464.50 286.90C465.10 291.38 465.47 295.92 466.10 300.40C466.73 304.88 467.57 310.43 468.30 313.80C469.03 317.17 469.57 318.68 470.50 320.60C471.43 322.52 472.82 324.07 473.90 325.30C474.98 326.53 476.48 327.55 477.00 328.00" stroke="#3a3a3a" stroke-width="1.1" fill="none" stroke-dasharray="1.1 1.9"/><text transform="translate(373.84 204.7) scale(1.069 1)" font-size="9.69">F</text><text transform="translate(443.06 211.1) scale(1.098 1)" font-size="8.92">p150</text></g>
<g><path d="M20.4 382.2V518.9" stroke="#111" stroke-width="1.8" fill="none"/><path d="M17.2 382.6H20.4" stroke="#111" stroke-width="1.1" fill="none"/><path d="M18.4 512.2H20.4M18.4 509.99H20.4M18.4 507.79H20.4M18.4 505.59H20.4M18.4 503.38H20.4M18.4 501.18H20.4M18.4 498.98H20.4M18.4 496.77H20.4M18.4 494.57H20.4M18.4 492.37H20.4M18.4 490.16H20.4M18.4 487.96H20.4M18.4 485.76H20.4M18.4 483.55H20.4M18.4 481.35H20.4M18.4 479.15H20.4M18.4 476.94H20.4M18.4 474.74H20.4M18.4 472.54H20.4M18.4 470.33H20.4M18.4 468.13H20.4M18.4 465.93H20.4M18.4 463.72H20.4M18.4 461.52H20.4M18.4 459.32H20.4M18.4 457.11H20.4M18.4 454.91H20.4M18.4 452.71H20.4M18.4 450.5H20.4M18.4 448.3H20.4M18.4 446.1H20.4M18.4 443.89H20.4M18.4 441.69H20.4M18.4 439.49H20.4M18.4 437.28H20.4M18.4 435.08H20.4M18.4 432.88H20.4M18.4 430.67H20.4M18.4 428.47H20.4M18.4 426.27H20.4M18.4 424.06H20.4M18.4 421.86H20.4M18.4 419.66H20.4M18.4 417.45H20.4M18.4 415.25H20.4M18.4 413.05H20.4M18.4 410.84H20.4M18.4 408.64H20.4M18.4 406.44H20.4M18.4 404.23H20.4M18.4 402.03H20.4M18.4 399.83H20.4M18.4 397.62H20.4M18.4 395.42H20.4M18.4 393.22H20.4M18.4 391.01H20.4M18.4 388.81H20.4M18.4 386.61H20.4M18.4 384.4H20.4M18.4 382.2H20.4" stroke="#222" stroke-width="0.85" fill="none"/><path d="M16.8 507.79H18.4M16.8 501.18H18.4M16.8 494.57H18.4M16.8 487.96H18.4M16.8 481.35H18.4M16.8 474.74H18.4M16.8 468.13H18.4M16.8 461.52H18.4M16.8 454.91H18.4M16.8 448.3H18.4M16.8 441.69H18.4M16.8 435.08H18.4M16.8 428.47H18.4M16.8 421.86H18.4M16.8 415.25H18.4M16.8 408.64H18.4M16.8 402.03H18.4M16.8 395.42H18.4M16.8 388.81H18.4M16.8 382.2H18.4" stroke="#666" stroke-width="0.7" fill="none"/><rect x="13.6" y="398.85" width="2.1" height="4.0" fill="#3c3c3c"/><rect x="13.6" y="402.85" width="2.1" height="2.4" fill="#a0a0a0"/><rect x="13.6" y="418.5" width="2.1" height="4.0" fill="#3c3c3c"/><rect x="13.6" y="422.5" width="2.1" height="2.4" fill="#a0a0a0"/><rect x="13.6" y="437.64" width="2.1" height="4.0" fill="#3c3c3c"/><rect x="13.6" y="441.64" width="2.1" height="2.4" fill="#a0a0a0"/><rect x="13.6" y="451.85" width="2.1" height="4.0" fill="#3c3c3c"/><rect x="13.6" y="455.85" width="2.1" height="2.4" fill="#a0a0a0"/><rect x="13.6" y="464.55" width="2.1" height="4.0" fill="#3c3c3c"/><rect x="13.6" y="468.55" width="2.1" height="2.4" fill="#a0a0a0"/><rect x="13.6" y="477.64" width="2.1" height="4.0" fill="#3c3c3c"/><rect x="13.6" y="481.64" width="2.1" height="2.4" fill="#a0a0a0"/><rect x="13.6" y="490.74" width="2.1" height="4.0" fill="#3c3c3c"/><rect x="13.6" y="494.74" width="2.1" height="2.4" fill="#a0a0a0"/><rect x="13.6" y="503.84" width="2.1" height="4.0" fill="#3c3c3c"/><rect x="13.6" y="507.84" width="2.1" height="2.4" fill="#a0a0a0"/><path d="M20.4 514.4L146 514.2" stroke="#161616" stroke-width="1.05" fill="none"/><path d="M29.85 514.38v2.1M35.38 514.38v2.1M39.3 514.37v2.1M42.35 514.37v2.1M44.83 514.36v2.1M46.94 514.36v2.1M48.76 514.35v2.1M50.36 514.35v2.1M61.25 514.33v2.1M66.78 514.33v2.1M70.7 514.32v2.1M73.75 514.32v2.1M76.23 514.31v2.1M78.34 514.31v2.1M80.16 514.3v2.1M81.76 514.3v2.1M92.65 514.28v2.1M98.18 514.28v2.1M102.1 514.27v2.1M105.15 514.27v2.1M107.63 514.26v2.1M109.74 514.26v2.1M111.56 514.25v2.1M113.16 514.25v2.1M124.05 514.23v2.1M129.58 514.23v2.1M133.5 514.22v2.1M136.55 514.22v2.1M139.03 514.21v2.1M141.14 514.21v2.1M142.96 514.2v2.1M144.56 514.2v2.1" stroke="#1a1a1a" stroke-width="1.2" fill="none"/><path d="M51.8 514.35v5" stroke="#777" stroke-width="0.8"/><rect x="46.9" y="519.65" width="3.0" height="1.5" fill="#333"/><path d="M83.2 514.3v5" stroke="#777" stroke-width="0.8"/><rect x="78.3" y="519.6" width="3.0" height="1.5" fill="#333"/><path d="M114.6 514.25v5" stroke="#777" stroke-width="0.8"/><rect x="109.7" y="519.55" width="3.0" height="1.5" fill="#333"/><path d="M42.30 514.10C42.68 513.72 43.75 513.05 44.60 511.80C45.45 510.55 46.60 508.60 47.40 506.60C48.20 504.60 48.72 503.17 49.40 499.80C50.08 496.43 50.93 490.88 51.50 486.40C52.07 481.92 52.43 477.38 52.80 472.90C53.17 468.42 53.42 463.82 53.70 459.50C53.98 455.18 54.27 450.45 54.50 447.00C54.73 443.55 54.87 442.40 55.10 438.80C55.33 435.20 55.62 429.88 55.90 425.40C56.18 420.92 56.47 416.38 56.80 411.90C57.13 407.42 57.55 401.82 57.90 398.50C58.25 395.18 58.77 392.00 58.90 392.00C59.03 392.00 59.83 395.18 60.20 398.50C60.57 401.82 60.77 407.42 61.10 411.90C61.43 416.38 61.90 420.92 62.20 425.40C62.50 429.88 62.69 435.20 62.90 438.80C63.11 442.40 63.27 443.55 63.45 447.00C63.63 450.45 63.81 455.18 64.00 459.50C64.19 463.82 64.38 468.42 64.60 472.90C64.82 477.38 65.02 481.92 65.30 486.40C65.58 490.88 65.92 496.43 66.30 499.80C66.68 503.17 66.82 504.68 67.60 506.60C68.38 508.52 69.77 510.13 71.00 511.30C72.23 512.47 74.33 513.22 75.00 513.60" stroke="#1c1c1c" stroke-width="1.1" fill="none"/><path d="M49.00 513.80C49.75 513.38 52.20 512.50 53.50 511.30C54.80 510.10 55.90 508.52 56.80 506.60C57.70 504.68 58.10 503.17 58.90 499.80C59.70 496.43 60.87 490.88 61.60 486.40C62.33 481.92 62.75 477.38 63.30 472.90C63.85 468.42 64.40 462.87 64.90 459.50C65.40 456.13 65.62 454.62 66.30 452.70C66.98 450.78 68.69 448.00 69.00 448.00C69.31 448.00 70.88 450.78 71.60 452.70C72.32 454.62 72.50 456.13 73.30 459.50C74.10 462.87 75.33 468.42 76.40 472.90C77.47 477.38 78.37 481.92 79.70 486.40C81.03 490.88 83.05 496.43 84.40 499.80C85.75 503.17 86.33 504.68 87.80 506.60C89.27 508.52 90.95 510.13 93.20 511.30C95.45 512.47 99.95 513.22 101.30 513.60" stroke="#1c1c1c" stroke-width="1.15" fill="none" stroke-dasharray="7 3.3"/><path d="M96.00 513.70C96.45 513.42 97.98 512.57 98.70 512.00C99.42 511.43 99.63 511.25 100.30 510.30C100.97 509.35 101.73 508.08 102.70 506.30C103.67 504.52 104.65 502.95 106.10 499.60C107.55 496.25 109.73 490.67 111.40 486.20C113.07 481.73 114.75 477.27 116.10 472.80C117.45 468.33 118.65 462.57 119.50 459.40C120.35 456.23 121.02 453.80 121.20 453.80C121.38 453.80 121.82 456.23 122.60 459.40C123.38 462.57 124.75 468.33 125.90 472.80C127.05 477.27 128.22 481.73 129.50 486.20C130.78 490.67 132.58 496.25 133.60 499.60C134.62 502.95 134.93 504.52 135.60 506.30C136.27 508.08 137.05 509.18 137.60 510.30C138.15 511.42 138.50 512.42 138.90 513.00C139.30 513.58 139.82 513.67 140.00 513.80" stroke="#3a3a3a" stroke-width="1.1" fill="none" stroke-dasharray="1.1 1.9"/><text transform="translate(1.44 391.7) scale(0.887 1)" font-size="10.31">G</text><text transform="translate(74.06 397.4) scale(0.952 1)" font-size="10.00">ICAM-1</text></g>
<g><path d="M204.8 385.2V517.8" stroke="#111" stroke-width="1.8" fill="none"/><path d="M201.6 385.6H204.8" stroke="#111" stroke-width="1.1" fill="none"/><path d="M202.8 511.09H204.8M202.8 508.88H204.8M202.8 506.67H204.8M202.8 504.47H204.8M202.8 502.26H204.8M202.8 500.05H204.8M202.8 497.84H204.8M202.8 495.63H204.8M202.8 493.42H204.8M202.8 491.21H204.8M202.8 489.01H204.8M202.8 486.8H204.8M202.8 484.59H204.8M202.8 482.38H204.8M202.8 480.17H204.8M202.8 477.96H204.8M202.8 475.75H204.8M202.8 473.54H204.8M202.8 471.34H204.8M202.8 469.13H204.8M202.8 466.92H204.8M202.8 464.71H204.8M202.8 462.5H204.8M202.8 460.29H204.8M202.8 458.08H204.8M202.8 455.88H204.8M202.8 453.67H204.8M202.8 451.46H204.8M202.8 449.25H204.8M202.8 447.04H204.8M202.8 444.83H204.8M202.8 442.62H204.8M202.8 440.42H204.8M202.8 438.21H204.8M202.8 436H204.8M202.8 433.79H204.8M202.8 431.58H204.8M202.8 429.37H204.8M202.8 427.16H204.8M202.8 424.96H204.8M202.8 422.75H204.8M202.8 420.54H204.8M202.8 418.33H204.8M202.8 416.12H204.8M202.8 413.91H204.8M202.8 411.7H204.8M202.8 409.49H204.8M202.8 407.29H204.8M202.8 405.08H204.8M202.8 402.87H204.8M202.8 400.66H204.8M202.8 398.45H204.8M202.8 396.24H204.8M202.8 394.03H204.8M202.8 391.83H204.8M202.8 389.62H204.8M202.8 387.41H204.8M202.8 385.2H204.8" stroke="#222" stroke-width="0.85" fill="none"/><path d="M201.2 506.67H202.8M201.2 500.05H202.8M201.2 493.42H202.8M201.2 486.8H202.8M201.2 480.17H202.8M201.2 473.54H202.8M201.2 466.92H202.8M201.2 460.29H202.8M201.2 453.67H202.8M201.2 447.04H202.8M201.2 440.42H202.8M201.2 433.79H202.8M201.2 427.16H202.8M201.2 420.54H202.8M201.2 413.91H202.8M201.2 407.29H202.8M201.2 400.66H202.8M201.2 394.03H202.8M201.2 387.41H202.8" stroke="#666" stroke-width="0.7" fill="none"/><rect x="198" y="390" width="2.1" height="4.0" fill="#3c3c3c"/><rect x="198" y="394" width="2.1" height="2.4" fill="#a0a0a0"/><rect x="198" y="406.8" width="2.1" height="4.0" fill="#3c3c3c"/><rect x="198" y="410.8" width="2.1" height="2.4" fill="#a0a0a0"/><rect x="198" y="422.6" width="2.1" height="4.0" fill="#3c3c3c"/><rect x="198" y="426.6" width="2.1" height="2.4" fill="#a0a0a0"/><rect x="198" y="438.6" width="2.1" height="4.0" fill="#3c3c3c"/><rect x="198" y="442.6" width="2.1" height="2.4" fill="#a0a0a0"/><rect x="198" y="454.8" width="2.1" height="4.0" fill="#3c3c3c"/><rect x="198" y="458.8" width="2.1" height="2.4" fill="#a0a0a0"/><rect x="198" y="470.8" width="2.1" height="4.0" fill="#3c3c3c"/><rect x="198" y="474.8" width="2.1" height="2.4" fill="#a0a0a0"/><rect x="198" y="487.1" width="2.1" height="4.0" fill="#3c3c3c"/><rect x="198" y="491.1" width="2.1" height="2.4" fill="#a0a0a0"/><rect x="198" y="502.9" width="2.1" height="4.0" fill="#3c3c3c"/><rect x="198" y="506.9" width="2.1" height="2.4" fill="#a0a0a0"/><path d="M204.8 513.3L343 513.3" stroke="#161616" stroke-width="1.05" fill="none"/><path d="M215.2 513.3v2.1M221.28 513.3v2.1M225.6 513.3v2.1M228.95 513.3v2.1M231.69 513.3v2.1M234 513.3v2.1M236 513.3v2.1M237.77 513.3v2.1M249.75 513.3v2.1M255.83 513.3v2.1M260.15 513.3v2.1M263.5 513.3v2.1M266.24 513.3v2.1M268.55 513.3v2.1M270.55 513.3v2.1M272.32 513.3v2.1M284.3 513.3v2.1M290.38 513.3v2.1M294.7 513.3v2.1M298.05 513.3v2.1M300.79 513.3v2.1M303.1 513.3v2.1M305.1 513.3v2.1M306.87 513.3v2.1M318.85 513.3v2.1M324.93 513.3v2.1M329.25 513.3v2.1M332.6 513.3v2.1M335.34 513.3v2.1M337.65 513.3v2.1M339.65 513.3v2.1M341.42 513.3v2.1" stroke="#1a1a1a" stroke-width="1.2" fill="none"/><path d="M239.35 513.3v5" stroke="#777" stroke-width="0.8"/><rect x="234.45" y="518.6" width="3.0" height="1.5" fill="#333"/><path d="M273.9 513.3v5" stroke="#777" stroke-width="0.8"/><rect x="269" y="518.6" width="3.0" height="1.5" fill="#333"/><path d="M308.45 513.3v5" stroke="#777" stroke-width="0.8"/><rect x="303.55" y="518.6" width="3.0" height="1.5" fill="#333"/><path d="M224.00 513.20C224.63 512.82 226.63 511.92 227.80 510.90C228.97 509.88 230.15 508.37 231.00 507.10C231.85 505.83 232.27 504.78 232.90 503.30C233.53 501.82 234.22 500.73 234.80 498.20C235.38 495.67 235.87 491.90 236.40 488.10C236.93 484.30 237.53 479.63 238.00 475.40C238.47 471.17 238.87 466.77 239.20 462.70C239.53 458.63 239.73 454.98 240.00 451.00C240.27 447.02 240.50 442.95 240.80 438.80C241.10 434.65 241.43 430.33 241.80 426.10C242.17 421.87 242.52 417.63 243.00 413.40C243.48 409.17 244.12 404.20 244.70 400.70C245.28 397.20 246.30 392.40 246.50 392.40C246.70 392.40 247.62 397.20 248.10 400.70C248.58 404.20 249.03 409.17 249.40 413.40C249.77 417.63 250.05 421.87 250.30 426.10C250.55 430.33 250.70 434.65 250.90 438.80C251.10 442.95 251.22 447.02 251.50 451.00C251.78 454.98 252.10 458.63 252.60 462.70C253.10 466.77 253.87 471.17 254.50 475.40C255.13 479.63 255.67 484.30 256.40 488.10C257.13 491.90 257.75 495.67 258.90 498.20C260.05 500.73 261.82 501.82 263.30 503.30C264.78 504.78 266.10 505.83 267.80 507.10C269.50 508.37 271.70 509.92 273.50 510.90C275.30 511.88 277.18 512.60 278.60 513.00C280.02 513.40 281.43 513.25 282.00 513.30" stroke="#1c1c1c" stroke-width="1.1" fill="none"/><path d="M237.00 513.20C237.48 513.10 239.10 513.40 239.90 512.60C240.70 511.80 241.07 510.33 241.80 508.40C242.53 506.47 243.50 504.38 244.30 501.00C245.10 497.62 245.97 492.37 246.60 488.10C247.23 483.83 247.60 479.63 248.10 475.40C248.60 471.17 249.22 466.77 249.60 462.70C249.98 458.63 250.20 454.98 250.40 451.00C250.60 447.02 250.62 442.95 250.80 438.80C250.98 434.65 251.05 429.90 251.50 426.10C251.95 422.30 252.68 418.55 253.50 416.00C254.32 413.45 256.11 410.74 256.40 410.80C256.69 410.86 257.93 414.45 258.50 417.00C259.07 419.55 259.32 422.47 259.80 426.10C260.28 429.73 260.88 434.65 261.40 438.80C261.92 442.95 262.40 447.02 262.90 451.00C263.40 454.98 263.80 458.63 264.40 462.70C265.00 466.77 265.73 471.17 266.50 475.40C267.27 479.63 268.05 484.30 269.00 488.10C269.95 491.90 271.03 495.45 272.20 498.20C273.37 500.95 274.73 502.70 276.00 504.60C277.27 506.50 278.53 508.20 279.80 509.60C281.07 511.00 282.57 512.38 283.60 513.00C284.63 513.62 285.60 513.25 286.00 513.30" stroke="#1c1c1c" stroke-width="1.15" fill="none" stroke-dasharray="7 3.3"/><path d="M232.00 513.20C232.68 512.82 234.90 511.92 236.10 510.90C237.30 509.88 238.05 509.22 239.20 507.10C240.35 504.98 241.93 501.37 243.00 498.20C244.07 495.03 244.85 491.90 245.60 488.10C246.35 484.30 246.98 479.63 247.50 475.40C248.02 471.17 248.25 466.77 248.70 462.70C249.15 458.63 249.83 454.98 250.20 451.00C250.57 447.02 250.65 442.95 250.90 438.80C251.15 434.65 251.37 430.33 251.70 426.10C252.03 421.87 252.43 417.63 252.90 413.40C253.37 409.17 254.25 400.70 254.50 400.70C254.75 400.70 256.53 409.17 257.20 413.40C257.87 417.63 258.07 421.87 258.50 426.10C258.93 430.33 259.30 434.65 259.80 438.80C260.30 442.95 260.92 447.02 261.50 451.00C262.08 454.98 262.68 458.63 263.30 462.70C263.92 466.77 264.45 471.17 265.20 475.40C265.95 479.63 266.83 484.30 267.80 488.10C268.77 491.90 269.63 495.03 271.00 498.20C272.37 501.37 274.32 504.98 276.00 507.10C277.68 509.22 279.60 509.88 281.10 510.90C282.60 511.92 284.35 512.82 285.00 513.20" stroke="#3a3a3a" stroke-width="1.1" fill="none" stroke-dasharray="1.1 1.9"/><text transform="translate(182.08 394.7) scale(0.922 1)" font-size="9.69">H</text><text transform="translate(268.56 401) scale(1.006 1)" font-size="9.69">ICAM-2</text></g>
<g><path d="M391.1 381.2V517.3" stroke="#111" stroke-width="1.8" fill="none"/><path d="M387.9 381.6H391.1" stroke="#111" stroke-width="1.1" fill="none"/><path d="M389.1 510.61H391.1M389.1 508.41H391.1M389.1 506.22H391.1M389.1 504.03H391.1M389.1 501.83H391.1M389.1 499.64H391.1M389.1 497.45H391.1M389.1 495.25H391.1M389.1 493.06H391.1M389.1 490.87H391.1M389.1 488.67H391.1M389.1 486.48H391.1M389.1 484.29H391.1M389.1 482.09H391.1M389.1 479.9H391.1M389.1 477.71H391.1M389.1 475.51H391.1M389.1 473.32H391.1M389.1 471.13H391.1M389.1 468.93H391.1M389.1 466.74H391.1M389.1 464.55H391.1M389.1 462.35H391.1M389.1 460.16H391.1M389.1 457.97H391.1M389.1 455.77H391.1M389.1 453.58H391.1M389.1 451.39H391.1M389.1 449.19H391.1M389.1 447H391.1M389.1 444.81H391.1M389.1 442.61H391.1M389.1 440.42H391.1M389.1 438.23H391.1M389.1 436.03H391.1M389.1 433.84H391.1M389.1 431.65H391.1M389.1 429.45H391.1M389.1 427.26H391.1M389.1 425.07H391.1M389.1 422.87H391.1M389.1 420.68H391.1M389.1 418.49H391.1M389.1 416.29H391.1M389.1 414.1H391.1M389.1 411.91H391.1M389.1 409.71H391.1M389.1 407.52H391.1M389.1 405.33H391.1M389.1 403.13H391.1M389.1 400.94H391.1M389.1 398.75H391.1M389.1 396.55H391.1M389.1 394.36H391.1M389.1 392.17H391.1M389.1 389.97H391.1M389.1 387.78H391.1M389.1 385.59H391.1M389.1 383.39H391.1M389.1 381.2H391.1" stroke="#222" stroke-width="0.85" fill="none"/><path d="M387.5 506.22H389.1M387.5 499.64H389.1M387.5 493.06H389.1M387.5 486.48H389.1M387.5 479.9H389.1M387.5 473.32H389.1M387.5 466.74H389.1M387.5 460.16H389.1M387.5 453.58H389.1M387.5 447H389.1M387.5 440.42H389.1M387.5 433.84H389.1M387.5 427.26H389.1M387.5 420.68H389.1M387.5 414.1H389.1M387.5 407.52H389.1M387.5 400.94H389.1M387.5 394.36H389.1M387.5 387.78H389.1M387.5 381.2H389.1" stroke="#666" stroke-width="0.7" fill="none"/><rect x="384.3" y="397.76" width="2.1" height="4.0" fill="#3c3c3c"/><rect x="384.3" y="401.76" width="2.1" height="2.4" fill="#a0a0a0"/><rect x="384.3" y="417.32" width="2.1" height="4.0" fill="#3c3c3c"/><rect x="384.3" y="421.32" width="2.1" height="2.4" fill="#a0a0a0"/><rect x="384.3" y="436.38" width="2.1" height="4.0" fill="#3c3c3c"/><rect x="384.3" y="440.38" width="2.1" height="2.4" fill="#a0a0a0"/><rect x="384.3" y="450.52" width="2.1" height="4.0" fill="#3c3c3c"/><rect x="384.3" y="454.52" width="2.1" height="2.4" fill="#a0a0a0"/><rect x="384.3" y="463.16" width="2.1" height="4.0" fill="#3c3c3c"/><rect x="384.3" y="467.16" width="2.1" height="2.4" fill="#a0a0a0"/><rect x="384.3" y="476.2" width="2.1" height="4.0" fill="#3c3c3c"/><rect x="384.3" y="480.2" width="2.1" height="2.4" fill="#a0a0a0"/><rect x="384.3" y="489.24" width="2.1" height="4.0" fill="#3c3c3c"/><rect x="384.3" y="493.24" width="2.1" height="2.4" fill="#a0a0a0"/><rect x="384.3" y="502.28" width="2.1" height="4.0" fill="#3c3c3c"/><rect x="384.3" y="506.28" width="2.1" height="2.4" fill="#a0a0a0"/><path d="M391.1 512.8L517.1 512.8" stroke="#161616" stroke-width="1.05" fill="none"/><path d="M400.58 512.8v2.1M406.13 512.8v2.1M410.06 512.8v2.1M413.12 512.8v2.1M415.61 512.8v2.1M417.72 512.8v2.1M419.55 512.8v2.1M421.16 512.8v2.1M432.08 512.8v2.1M437.63 512.8v2.1M441.56 512.8v2.1M444.62 512.8v2.1M447.11 512.8v2.1M449.22 512.8v2.1M451.05 512.8v2.1M452.66 512.8v2.1M463.58 512.8v2.1M469.13 512.8v2.1M473.06 512.8v2.1M476.12 512.8v2.1M478.61 512.8v2.1M480.72 512.8v2.1M482.55 512.8v2.1M484.16 512.8v2.1M495.08 512.8v2.1M500.63 512.8v2.1M504.56 512.8v2.1M507.62 512.8v2.1M510.11 512.8v2.1M512.22 512.8v2.1M514.05 512.8v2.1M515.66 512.8v2.1" stroke="#1a1a1a" stroke-width="1.2" fill="none"/><path d="M422.6 512.8v5" stroke="#777" stroke-width="0.8"/><rect x="417.7" y="518.1" width="3.0" height="1.5" fill="#333"/><path d="M454.1 512.8v5" stroke="#777" stroke-width="0.8"/><rect x="449.2" y="518.1" width="3.0" height="1.5" fill="#333"/><path d="M485.6 512.8v5" stroke="#777" stroke-width="0.8"/><rect x="480.7" y="518.1" width="3.0" height="1.5" fill="#333"/><path d="M517.1 512.8v5" stroke="#777" stroke-width="0.8"/><rect x="512.2" y="518.1" width="3.0" height="1.5" fill="#333"/><path d="M410.00 512.60C410.78 512.33 413.27 512.03 414.70 511.00C416.13 509.97 417.58 508.23 418.60 506.40C419.62 504.57 420.03 503.23 420.80 500.00C421.57 496.77 422.63 491.33 423.20 487.00C423.77 482.67 423.88 478.33 424.20 474.00C424.52 469.67 424.85 465.42 425.10 461.00C425.35 456.58 425.53 451.92 425.70 447.50C425.87 443.08 425.90 438.77 426.10 434.50C426.30 430.23 426.62 426.10 426.90 421.90C427.18 417.70 427.50 413.52 427.80 409.30C428.10 405.08 428.43 399.67 428.70 396.60C428.97 393.53 429.28 390.90 429.40 390.90C429.52 390.90 430.30 393.53 430.70 396.60C431.10 399.67 431.48 405.08 431.80 409.30C432.12 413.52 432.32 417.70 432.60 421.90C432.88 426.10 433.27 430.23 433.50 434.50C433.73 438.77 433.82 443.08 434.00 447.50C434.18 451.92 434.38 456.58 434.60 461.00C434.82 465.42 435.03 469.67 435.30 474.00C435.57 478.33 435.80 482.67 436.20 487.00C436.60 491.33 437.17 496.77 437.70 500.00C438.23 503.23 438.47 504.57 439.40 506.40C440.33 508.23 442.03 509.98 443.30 511.00C444.57 512.02 446.38 512.25 447.00 512.50" stroke="#1c1c1c" stroke-width="1.1" fill="none"/><path d="M447.00 512.20C447.42 511.92 448.72 511.23 449.50 510.50C450.28 509.77 451.03 508.70 451.70 507.80C452.37 506.90 452.75 506.68 453.50 505.10C454.25 503.52 455.08 501.70 456.20 498.30C457.32 494.90 458.90 489.23 460.20 484.70C461.50 480.17 463.02 474.48 464.00 471.10C464.98 467.72 465.25 466.65 466.10 464.40C466.95 462.15 468.38 459.15 469.10 457.60C469.82 456.05 470.24 455.10 470.40 455.10C470.56 455.10 471.23 456.05 471.80 457.60C472.37 459.15 473.30 462.15 473.80 464.40C474.30 466.65 474.18 467.72 474.80 471.10C475.42 474.48 476.47 480.17 477.50 484.70C478.53 489.23 479.92 494.90 481.00 498.30C482.08 501.70 483.05 503.52 484.00 505.10C484.95 506.68 485.57 506.90 486.70 507.80C487.83 508.70 489.42 509.80 490.80 510.50C492.18 511.20 494.30 511.75 495.00 512.00" stroke="#1c1c1c" stroke-width="1.15" fill="none" stroke-dasharray="7 3.3"/><path d="M463.00 512.20C463.52 511.80 465.13 510.98 466.10 509.80C467.07 508.62 467.97 507.02 468.80 505.10C469.63 503.18 470.10 501.70 471.10 498.30C472.10 494.90 473.60 489.23 474.80 484.70C476.00 480.17 477.10 475.62 478.30 471.10C479.50 466.58 480.93 461.48 482.00 457.60C483.07 453.72 484.38 447.80 484.70 447.80C485.01 447.80 486.50 453.72 487.40 457.60C488.30 461.48 489.25 466.58 490.10 471.10C490.95 475.62 491.60 480.17 492.50 484.70C493.40 489.23 494.70 494.90 495.50 498.30C496.30 501.70 496.68 503.18 497.30 505.10C497.92 507.02 498.58 508.62 499.20 509.80C499.82 510.98 500.70 511.80 501.00 512.20" stroke="#3a3a3a" stroke-width="1.1" fill="none" stroke-dasharray="1.1 1.9"/><text transform="translate(373.32 390.8) scale(0.820 1)" font-size="8.92">I</text><text transform="translate(446.66 397.7) scale(0.982 1)" font-size="9.69">ICAM-3</text></g>
</svg>
</body></html>
